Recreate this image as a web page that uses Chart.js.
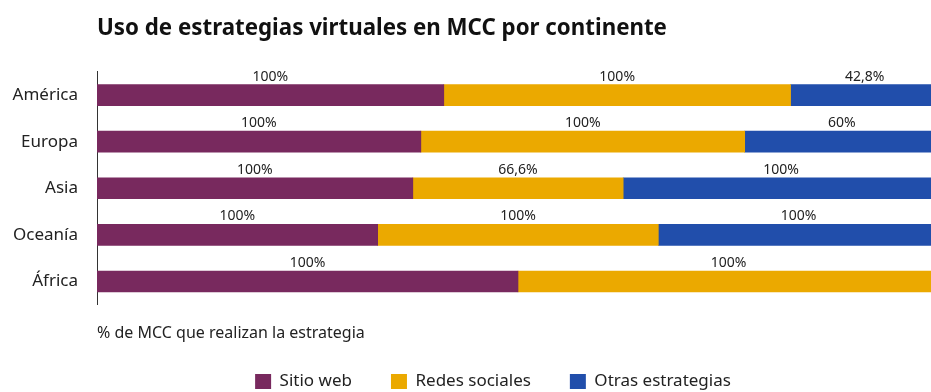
<!DOCTYPE html>
<html lang="es">
<head>
<meta charset="utf-8">
<title>Uso de estrategias virtuales en MCC por continente</title>
<script src="https://cdn.jsdelivr.net/npm/chart.js@4"></script>
<style>
  html, body { margin: 0; padding: 0; background: #fff; overflow: hidden; }
  #wrap { width: 931px; height: 392px; overflow: hidden; }
</style>
</head>
<body>
<div id="wrap"><canvas id="grafico" width="986" height="400"></canvas></div>
<script>
const continentes = ['América', 'Europa', 'Asia', 'Oceanía', 'África'];
const sitioWeb = [100, 100, 100, 100, 100];
const redesSociales = [100, 100, 66.6, 100, 100];
const otrasEstrategias = [42.8, 60, 100, 100, null];
const series = ['Sitio web', 'Redes sociales', 'Otras estrategias'];
const colores = ['#78295E', '#EBA900', '#214EAB'];

const valores = [sitioWeb, redesSociales, otrasEstrategias];
// each bar is split by the share of its row total
const totales = continentes.map((_, i) => valores.reduce((s, v) => s + (v[i] || 0), 0));

const fmt = v => String(v).replace('.', ',') + '%';

// value printed above the middle of each segment
const etiquetas = {
  id: 'etiquetas',
  afterDatasetsDraw(chart) {
    const ctx = chart.ctx;
    ctx.save();
    ctx.font = '14px "Noto Sans"';
    ctx.fillStyle = '#222';
    ctx.textAlign = 'center';
    ctx.textBaseline = 'alphabetic';
    chart.data.datasets.forEach((ds, d) => {
      chart.getDatasetMeta(d).data.forEach((bar, i) => {
        const v = valores[d][i];
        if (v == null) return;
        ctx.fillText(fmt(v), (bar.base + bar.x) / 2, bar.y - bar.height / 2 - 4);
      });
    });
    ctx.restore();
  }
};

Chart.defaults.font.family = '"Noto Sans", sans-serif';

new Chart(document.getElementById('grafico'), {
  type: 'bar',
  data: {
    labels: continentes,
    datasets: series.map((s, d) => ({
      label: s,
      data: valores[d].map((v, i) => v == null ? null : v / totales[i]),
      backgroundColor: colores[d],
      barThickness: 21
    }))
  },
  options: {
    indexAxis: 'y',
    responsive: false,
    animation: false,
    events: [],
    plugins: {
      title: {
        display: true,
        text: 'Uso de estrategias virtuales en MCC por continente',
        align: 'start',
        fullSize: false,
        color: '#111',
        font: { size: 22.3, weight: 'bold' },
        padding: { top: 15, bottom: 30 }
      },
      legend: {
        position: 'bottom',
        labels: { boxWidth: 16, boxHeight: 15, padding: 39, color: '#222', font: { size: 17 } }
      },
      tooltip: { enabled: false }
    },
    scales: {
      x: {
        stacked: true,
        min: 0,
        max: 1,
        grid: { display: false },
        border: { display: false },
        ticks: { display: false },
        title: {
          display: true,
          text: '% de MCC que realizan la estrategia',
          align: 'start',
          color: '#222',
          font: { size: 16 },
          padding: { top: 11, bottom: -9 }
        }
      },
      y: {
        stacked: true,
        grid: { display: false },
        border: { display: true, color: '#333', width: 1 },
        ticks: { color: '#222', font: { size: 17 }, padding: 11 },
        afterFit(s) { s.width = 97; }
      },
      y2: {
        position: 'right',
        grid: { display: false },
        border: { display: false },
        ticks: { display: false },
        afterFit(s) { s.width = 47; }
      }
    }
  },
  plugins: [etiquetas]
});
</script>
</body>
</html>
